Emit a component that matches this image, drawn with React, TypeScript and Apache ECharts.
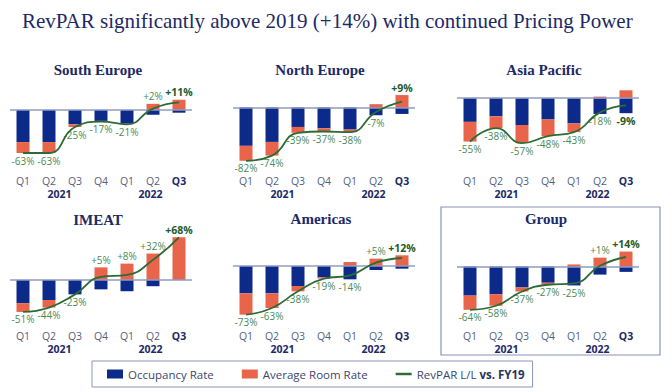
import React, { useEffect, useRef } from 'react';
import * as echarts from 'echarts';

// ---------- data ----------
const quarters = ['Q1 2021', 'Q2 2021', 'Q3 2021', 'Q4 2021', 'Q1 2022', 'Q2 2022', 'Q3 2022'];
const yearLabels = ['2021', '2022'];
const yearLabelAt = [1.4, 4.9]; // position on the quarter index scale
const regions = ['South Europe', 'North Europe', 'Asia Pacific', 'IMEAT', 'Americas', 'Group'];

const occSouthEurope = [-47, -47, -21, -16, -20, -7, -4];
const arrSouthEurope = [-16, -16, -4, -1, -1, 9, 15];
const revparSouthEurope = [-63, -63, -25, -17, -21, 2, 11];

const occNorthEurope = [-59, -53, -30, -32, -34, -12, -10];
const arrNorthEurope = [-23, -21, -9, -5, -4, 5, 19];
const revparNorthEurope = [-82, -74, -39, -37, -38, -7, 9];

const occAsiaPacific = [-30, -23, -34, -27, -32, -20, -19];
const arrAsiaPacific = [-25, -15, -23, -21, -11, 2, 10];
const revparAsiaPacific = [-55, -38, -57, -48, -43, -18, -9];

const occIMEAT = [-37, -32, -23, -15, -18, -10, 0];
const arrIMEAT = [-14, -12, 0, 20, 26, 42, 68];
const revparIMEAT = [-51, -44, -23, 5, 8, 32, 68];

const occAmericas = [-41, -41, -30, -17, -20, -6, -4];
const arrAmericas = [-32, -22, -8, -2, 6, 11, 16];
const revparAmericas = [-73, -63, -38, -19, -14, 5, 12];

const occGroup = [-43, -41, -31, -24, -28, -12, -8];
const arrGroup = [-21, -17, -6, -3, 3, 13, 22];
const revparGroup = [-64, -58, -37, -27, -25, 1, 14];

const occupancy = [occSouthEurope, occNorthEurope, occAsiaPacific, occIMEAT, occAmericas, occGroup];
const roomRate = [arrSouthEurope, arrNorthEurope, arrAsiaPacific, arrIMEAT, arrAmericas, arrGroup];
const revpar = [revparSouthEurope, revparNorthEurope, revparAsiaPacific, revparIMEAT, revparAmericas, revparGroup];

const seriesNames = ['Occupancy Rate', 'Average Room Rate', 'RevPAR L/L vs. FY19'];
const mainTitle = 'RevPAR significantly above 2019 (+14%) with continued Pricing Power';

// ---------- layout / style ----------
const GRID_W = 182;
const layout = [
  { left: 10, top: 84, height: 82, yMin: -82, yMax: 38, titleX: 98, titleY: 70, labelMargin: 9 },
  { left: 233, top: 84, height: 82, yMin: -90, yMax: 36, titleX: 320, titleY: 70, labelMargin: 9 },
  { left: 457, top: 84, height: 82, yMin: -86, yMax: 18, titleX: 544, titleY: 70, labelMargin: 9 },
  { left: 10, top: 236, height: 86, yMin: -67, yMax: 70, titleX: 98, titleY: 220, labelMargin: 8 },
  { left: 233, top: 236, height: 86, yMin: -84, yMax: 45, titleX: 321, titleY: 219, labelMargin: 8 },
  { left: 457, top: 236, height: 86, yMin: -82, yMax: 45, titleX: 546, titleY: 219, labelMargin: 8 },
];

const BLUE = '#0c2a8a';
const ORANGE = '#e8644b';
const GREEN = '#2c6b34';
const LABEL_GREEN = '#4b8a57';
const DARK_GREEN = '#1f5a28';
const NAVY = '#1c2a66';
const AXIS_TXT = '#56607d';
const BASE = '#8f9bc2';
const SANS = '"Open Sans", "Noto Sans", sans-serif';
const SERIF = '"Liberation Serif", "DejaVu Serif", serif';

const fmtPct = (v: number) => (v > 0 ? '+' : '') + v + '%';

export default function App() {
  const ref = useRef<HTMLDivElement>(null);

  useEffect(() => {
    if (!ref.current) return;
    const chart = echarts.init(ref.current, undefined, { renderer: 'svg' });

    const grids: any[] = [];
    const xAxes: any[] = [];
    const yAxes: any[] = [];
    const series: any[] = [];
    const graphics: any[] = [];

    graphics.push({
      type: 'text',
      x: 22,
      y: 21,
      style: {
        text: mainTitle,
        fontFamily: SERIF,
        fontSize: 21,
        fill: NAVY,
        textAlign: 'left',
        textVerticalAlign: 'middle',
      },
    });

    graphics.push({
      type: 'rect',
      shape: { x: 441, y: 207, width: 219, height: 148 },
      style: { fill: 'none', stroke: '#8792b8', lineWidth: 1.2 },
      z: -1,
    });

    regions.forEach((region, i) => {
      const L = layout[i];
      grids.push({ left: L.left, top: L.top, width: GRID_W, height: L.height, containLabel: false, outerBoundsMode: 'none' });

      graphics.push({
        type: 'text',
        x: L.titleX,
        y: L.titleY,
        style: {
          text: region,
          fontFamily: SERIF,
          fontSize: 15,
          fontWeight: 'bold',
          fill: NAVY,
          textAlign: 'center',
          textVerticalAlign: 'middle',
        },
      });

      const catIdx = xAxes.length;
      xAxes.push({
        type: 'category',
        gridIndex: i,
        position: 'bottom',
        data: quarters.map((q, k) =>
          k === quarters.length - 1
            ? { value: q, textStyle: { fontWeight: 'bold', color: NAVY } }
            : q
        ),
        axisLine: { show: false },
        axisTick: { show: false },
        splitLine: { show: false },
        axisLabel: {
          margin: L.labelMargin,
          fontFamily: SANS,
          fontSize: 10.5,
          lineHeight: 12,
          color: AXIS_TXT,
          interval: 0,
          formatter: (v: string) => v.split(' ')[0],
        },
      });
      xAxes.push({
        type: 'value',
        gridIndex: i,
        position: 'bottom',
        offset: 12.5,
        min: -0.5,
        max: 6.5,
        interval: 0.1,
        axisLine: { show: false },
        axisTick: { show: false },
        splitLine: { show: false },
        axisLabel: {
          margin: L.labelMargin,
          fontFamily: SANS,
          fontSize: 10.5,
          lineHeight: 12,
          fontWeight: 'bold',
          color: NAVY,
          showMinLabel: true,
          showMaxLabel: true,
          formatter: (v: number) => {
            for (let k = 0; k < yearLabelAt.length; k++) {
              if (Math.abs(v - yearLabelAt[k]) < 1e-6) return yearLabels[k];
            }
            return '';
          },
        },
      });
      yAxes.push({ type: 'value', gridIndex: i, min: L.yMin, max: L.yMax, show: false });

      // RevPAR value label sits at the outer end of the stacked bar
      const rp = revpar[i];
      const ownerIsArr = rp.map((v, k) => (v < 0 ? roomRate[i][k] < 0 : roomRate[i][k] > 0));
      const labelFor = (v: number, k: number, owns: boolean) => {
        const last = k === rp.length - 1;
        return {
          value: v,
          label: owns
            ? {
                show: true,
                position: rp[k] < 0 ? 'bottom' : 'top',
                ...(last ? { fontWeight: 'bold', color: DARK_GREEN, fontSize: 10.5 } : {}),
              }
            : { show: false },
        };
      };
      const barLabel = {
        show: false,
        distance: 2,
        fontFamily: SANS,
        fontSize: 10,
        lineHeight: 11,
        color: LABEL_GREEN,
        formatter: (p: any) => fmtPct(rp[p.dataIndex]),
      };

      const stack = 'stack' + i;
      series.push({
        name: seriesNames[0],
        type: 'bar',
        xAxisIndex: catIdx,
        yAxisIndex: i,
        stack,
        barWidth: 13,
        itemStyle: { color: BLUE },
        label: barLabel,
        data: occupancy[i].map((v, k) => labelFor(v, k, !ownerIsArr[k])),
        markLine: {
          silent: true,
          symbol: ['none', 'none'],
          label: { show: false },
          lineStyle: { color: BASE, width: 1.5, type: 'solid' },
          data: [{ yAxis: 0 }],
        },
      });
      series.push({
        name: seriesNames[1],
        type: 'bar',
        xAxisIndex: catIdx,
        yAxisIndex: i,
        stack,
        barWidth: 13,
        itemStyle: { color: ORANGE },
        label: barLabel,
        data: roomRate[i].map((v, k) => labelFor(v, k, ownerIsArr[k])),
      });
      series.push({
        name: seriesNames[2],
        type: 'line',
        xAxisIndex: catIdx,
        yAxisIndex: i,
        smooth: 0.5,
        symbol: 'none',
        z: 5,
        lineStyle: { color: GREEN, width: 1.8 },
        itemStyle: { color: GREEN },
        data: rp,
      });
    });

    const option: any = {
      animation: false,
      backgroundColor: '#ffffff',
      grid: grids,
      xAxis: xAxes,
      yAxis: yAxes,
      series,
      graphic: graphics,
      legend: {
        left: 92,
        top: 361,
        padding: [6, 8, 6, 15],
        borderColor: '#8b95ba',
        borderWidth: 1,
        borderRadius: 0,
        itemWidth: 16,
        itemHeight: 9,
        itemGap: 28,
        selectedMode: false,
        data: [
          { name: seriesNames[0], icon: 'rect' },
          { name: seriesNames[1], icon: 'rect' },
          { name: seriesNames[2], icon: 'path://M0,0 L13,0 L13,2 L0,2 Z' },
        ],
        formatter: (name: string) => (name === seriesNames[2] ? 'RevPAR L/L {b|vs. FY19}' : name),
        textStyle: {
          fontFamily: SANS,
          fontSize: 11.5,
          color: '#3c4670',
          lineHeight: 14,
          rich: {
            b: { fontFamily: SANS, fontSize: 11.5, fontWeight: 'bold', color: '#2a3460', lineHeight: 14 },
          },
        },
      },
    };

    chart.setOption(option);
    return () => chart.dispose();
  }, []);

  return (
    <div
      ref={ref}
      style={{ position: 'absolute', left: 0, top: 0, width: 672, height: 392, background: '#fff' }}
    />
  );
}
